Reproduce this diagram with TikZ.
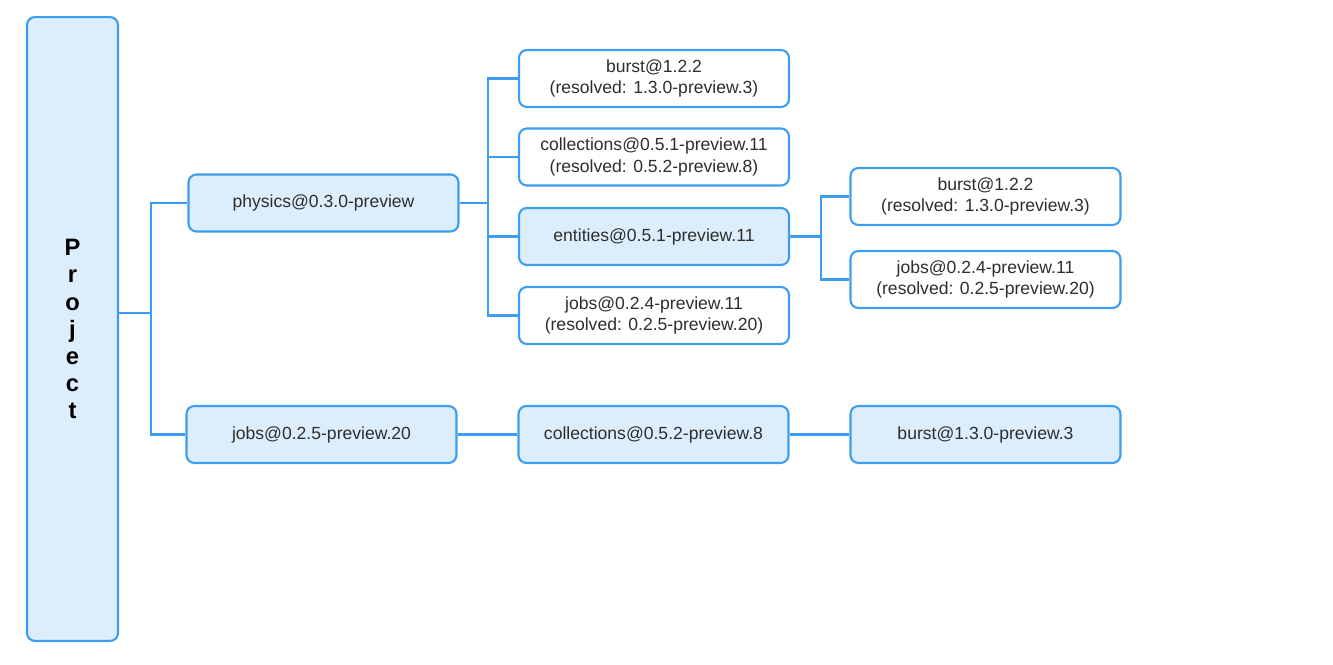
\documentclass[tikz,border=0pt]{standalone}
\usepackage{fontspec}
\setmainfont{Liberation Sans}
\usepackage{xcolor}
\definecolor{edgeblue}{HTML}{3D9DEE}
\definecolor{boxfill}{HTML}{DCEDFB}
\definecolor{txtgray}{HTML}{2E2E2E}

\begin{document}
\begin{tikzpicture}[x=0.02cm, y=-0.02cm,
    pkg/.style={draw=edgeblue, line width=1.2pt, rounded corners=4.5pt, fill=white,
      minimum width=5.4cm, minimum height=1.14cm, align=center, inner sep=0pt,
      text=txtgray, font=\fontsize{10}{12.4}\selectfont},
    pkgfill/.style={pkg, fill=boxfill},
    link/.style={draw=edgeblue, line width=1.2pt}]
      \useasboundingbox (0, 0) rectangle (1333, 664);
      % \draw[line width=0.1mm, color=black] (0,0) grid (1333,664);

      \node[pkgfill, minimum width=1.82cm, minimum height=12.48cm,
        font=\bfseries\fontsize{13.5}{15.4}\selectfont, text=black] (project) at (72.5, 329)
        {P\\r\\o\\j\\e\\c\\t};

      \node[pkgfill] (physics) at (323.5, 203) {physics@0.3.0-preview};
      \node[pkgfill] (jobs) at (321.5, 434.5) {jobs@0.2.5-preview.20};

      \node[pkg] (burst) at (654, 78.5) {burst@1.2.2\\(resolved: 1.3.0-preview.3)};
      \node[pkg] (collections) at (654, 157) {collections@0.5.1-preview.11\\(resolved: 0.5.2-preview.8)};
      \node[pkgfill] (entities) at (654, 236.5) {entities@0.5.1-preview.11};
      \node[pkg] (jobsold) at (654, 315.5) {jobs@0.2.4-preview.11\\(resolved: 0.2.5-preview.20)};
      \node[pkgfill] (collectionsnew) at (653.5, 434.5) {collections@0.5.2-preview.8};

      \node[pkg] (entburst) at (985.5, 196.5) {burst@1.2.2\\(resolved: 1.3.0-preview.3)};
      \node[pkg] (entjobs) at (985.5, 279.5) {jobs@0.2.4-preview.11\\(resolved: 0.2.5-preview.20)};
      \node[pkgfill] (burstnew) at (985.5, 434.5) {burst@1.3.0-preview.3};

      \coordinate (projsplit) at (151, 313);
      \coordinate (physsplit) at (488, 203);
      \coordinate (entsplit) at (821, 236.5);

      \draw[link] (project.east |- projsplit) -- (projsplit);
      \foreach \n in {physics, jobs}
        \draw[link] (projsplit) |- (\n.west);

      \draw[link] (physics.east) -- (physsplit);
      \foreach \n in {burst, collections, entities, jobsold}
        \draw[link] (physsplit) |- (\n.west);

      \draw[link] (entities.east) -- (entsplit);
      \foreach \n in {entburst, entjobs}
        \draw[link] (entsplit) |- (\n.west);

      \draw[link] (jobs.east) -- (collectionsnew.west);
      \draw[link] (collectionsnew.east) -- (burstnew.west);

\end{tikzpicture}
\end{document}
